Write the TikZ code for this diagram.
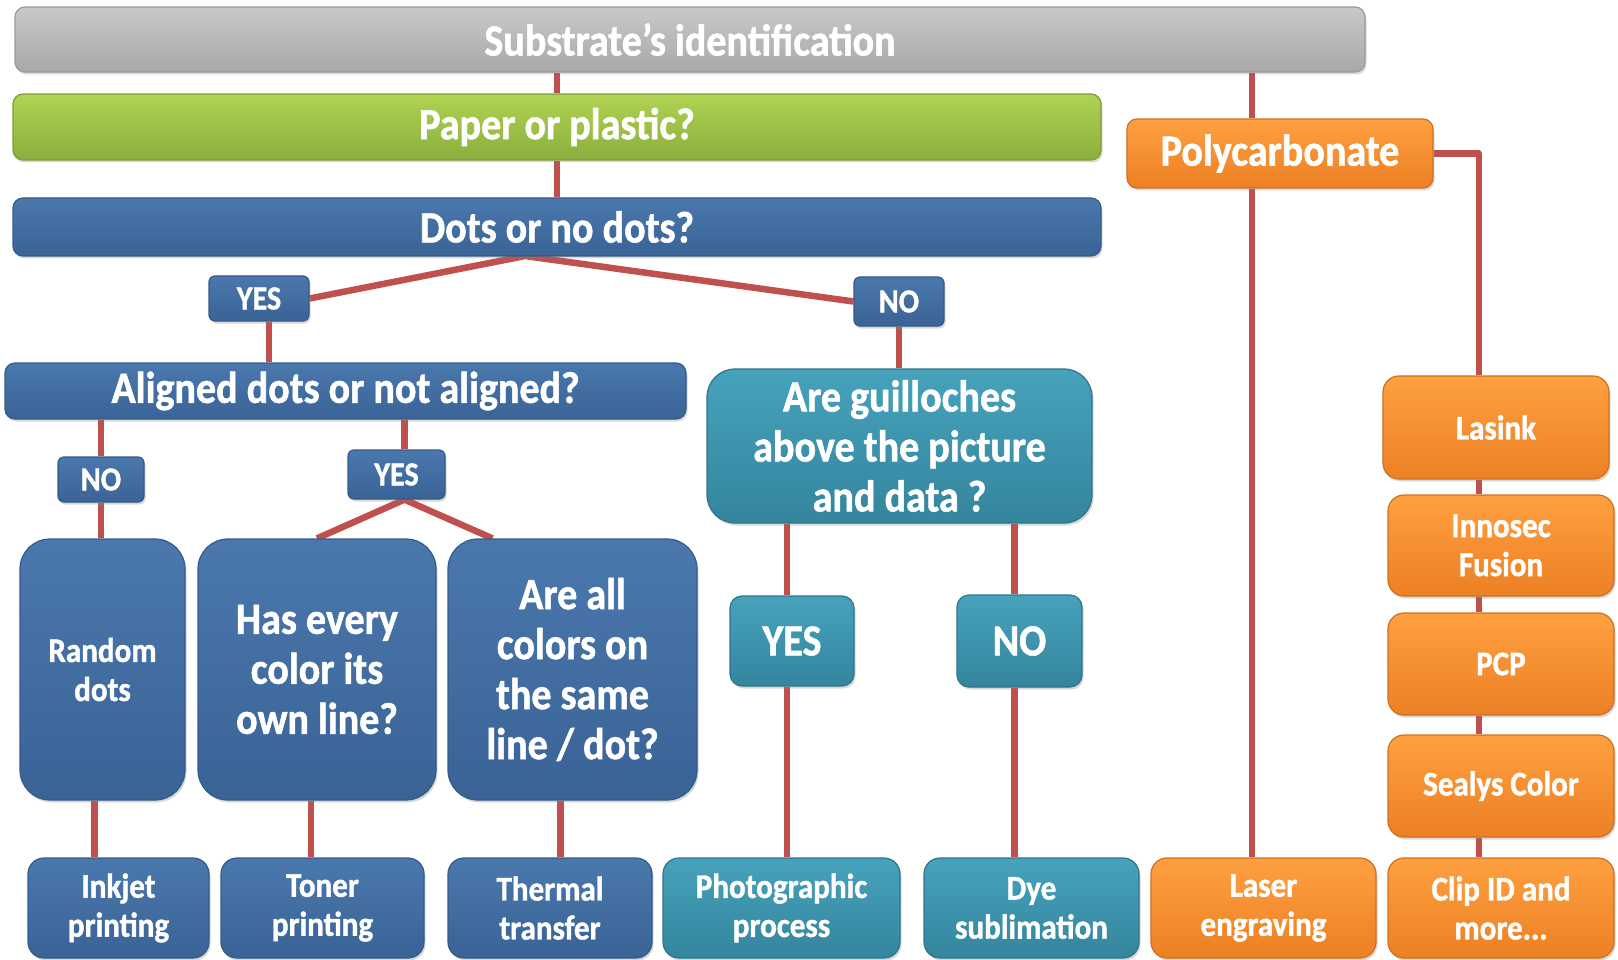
\documentclass[tikz,border=0pt]{standalone}
\usepackage{fontspec}
\setmainfont{Carlito}[FakeStretch=0.9, BoldFeatures={FakeBold=1.2}]
\usepackage{xcolor}
\usetikzlibrary{shadows, backgrounds}

\definecolor{greyTop}{HTML}{C9C9C9}
\definecolor{greyBot}{HTML}{A8A8A8}
\definecolor{greyEdge}{HTML}{9A9A9A}
\definecolor{greenTop}{HTML}{AFD352}
\definecolor{greenBot}{HTML}{8BAE3E}
\definecolor{greenEdge}{HTML}{7D9D37}
\definecolor{blueTop}{HTML}{4A78AD}
\definecolor{blueBot}{HTML}{3A6396}
\definecolor{blueEdge}{HTML}{335A88}
\definecolor{tealTop}{HTML}{47A2BC}
\definecolor{tealBot}{HTML}{34859D}
\definecolor{tealEdge}{HTML}{2E7589}
\definecolor{orangeTop}{HTML}{FFA040}
\definecolor{orangeBot}{HTML}{EC8024}
\definecolor{orangeEdge}{HTML}{D0701E}
\definecolor{linkred}{HTML}{C0504D}

\begin{document}
\begin{tikzpicture}[x=1pt, y=-1pt]
    \tikzset{
        box/.style={rectangle, draw, line width=1.2pt, inner sep=0pt, align=center, text=white,
            font=\bfseries\fontsize{44.5}{50}\selectfont,
            drop shadow={opacity=0.3, shadow xshift=1.5pt, shadow yshift=-2.5pt}},
        small/.style={font=\bfseries\fontsize{34.5}{39}\selectfont},
        label/.style={font=\bfseries\fontsize{33.5}{38}\selectfont},
        greybar/.style={box, rounded corners=10pt, draw=greyEdge, top color=greyTop, bottom color=greyBot},
        greenbar/.style={box, rounded corners=10pt, draw=greenEdge, top color=greenTop, bottom color=greenBot},
        bluebox/.style={box, draw=blueEdge, top color=blueTop, bottom color=blueBot},
        tealbox/.style={box, draw=tealEdge, top color=tealTop, bottom color=tealBot},
        orangebox/.style={box, draw=orangeEdge, top color=orangeTop, bottom color=orangeBot},
        link/.style={draw=linkred, line width=6.5pt, line join=round}
    }
    \useasboundingbox (0,0) rectangle (1618,960);

    % top bars
    \node[greybar, minimum width=1350pt, minimum height=65pt] (title) at (690,39.5) {Substrate’s identification};
    \node[greenbar, minimum width=1088pt, minimum height=66pt] (paper) at (557,127) {Paper or plastic?};
    \node[bluebox, rounded corners=10pt, minimum width=1088pt, minimum height=58pt] (dots) at (557,227) {Dots or no dots?};
    \node[orangebox, rounded corners=10pt, minimum width=306pt, minimum height=69pt] (poly) at (1280,153.5) {Polycarbonate};

    % first answers
    \node[bluebox, label, rounded corners=6pt, minimum width=100pt, minimum height=45pt] (yesA) at (259,298.5) {YES};
    \node[bluebox, label, rounded corners=6pt, minimum width=90pt, minimum height=49pt] (noA) at (899,301.5) {NO};

    \node[bluebox, rounded corners=10pt, minimum width=681pt, minimum height=56pt] (aligned) at (345.5,391) {Aligned dots or not aligned?};
    \node[tealbox, rounded corners=28pt, minimum width=385pt, minimum height=154pt] (guill) at (899.5,446) {Are guilloches\\above the picture\\and data ?};

    \node[bluebox, label, rounded corners=6pt, minimum width=86pt, minimum height=45pt] (noB) at (101,479.5) {NO};
    \node[bluebox, label, rounded corners=6pt, minimum width=97pt, minimum height=49pt] (yesB) at (396.5,474.5) {YES};

    % questions
    \node[bluebox, small, rounded corners=30pt, minimum width=165pt, minimum height=261pt] (random) at (102.5,669.5) {Random\\dots};
    \node[bluebox, rounded corners=30pt, minimum width=238pt, minimum height=261pt] (hasevery) at (317,669.5) {Has every\\color its\\own line?};
    \node[bluebox, rounded corners=30pt, minimum width=249pt, minimum height=261pt] (areall) at (572.5,669.5) {Are all\\colors on\\the same\\line / dot?};
    \node[tealbox, rounded corners=12pt, minimum width=124pt, minimum height=90pt] (yesC) at (792,641) {YES};
    \node[tealbox, rounded corners=12pt, minimum width=125pt, minimum height=92pt] (noC) at (1019.5,641) {NO};

    % orange chain
    \node[orangebox, small, rounded corners=16pt, minimum width=226pt, minimum height=103pt] (lasink) at (1496,427.5) {Lasink};
    \node[orangebox, small, rounded corners=16pt, minimum width=226pt, minimum height=101pt] (innosec) at (1501,545.5) {Innosec\\Fusion};
    \node[orangebox, small, rounded corners=16pt, minimum width=226pt, minimum height=102pt] (pcp) at (1501,664) {PCP};
    \node[orangebox, small, rounded corners=16pt, minimum width=226pt, minimum height=102pt] (sealys) at (1501,786) {Sealys Color};

    % bottom row
    \node[bluebox, small, rounded corners=16pt, minimum width=181pt, minimum height=100pt] (inkjet) at (118.5,908) {Inkjet\\printing};
    \node[bluebox, small, rounded corners=16pt, minimum width=203pt, minimum height=100pt] (toner) at (322.5,908) {Toner\\printing};
    \node[bluebox, small, rounded corners=16pt, minimum width=204pt, minimum height=100pt] (thermal) at (550,908) {Thermal\\transfer};
    \node[tealbox, small, rounded corners=16pt, minimum width=237pt, minimum height=100pt] (photo) at (781.5,908) {Photographic\\process};
    \node[tealbox, small, rounded corners=16pt, minimum width=215pt, minimum height=100pt] (dye) at (1031.5,908) {Dye\\sublimation};
    \node[orangebox, small, rounded corners=16pt, minimum width=225pt, minimum height=100pt] (laser) at (1263.5,908) {Laser\\engraving};
    \node[orangebox, small, rounded corners=16pt, minimum width=226pt, minimum height=100pt] (clip) at (1501,908) {Clip ID and\\more...};

    % connectors
    \begin{scope}[on background layer]
        \draw[link] (paper.north) -- (paper.north |- title.south);
        \draw[link] (paper) -- (dots);
        \coordinate (dsplit) at (525,256);
        \draw[link] (yesA.east) -- (dsplit) -- (noA.west);
        \draw[link] ([xshift=10pt]yesA.south) -- ([xshift=10pt]yesA.south |- aligned.north);
        \draw[link] (noB.north) -- (noB.north |- aligned.south);
        \draw[link] (noB.south) -- (noB.south |- random.north);
        \draw[link] ([xshift=8pt]yesB.north) -- ([xshift=8pt]yesB.north |- aligned.south);
        \coordinate (ysplit) at ([xshift=8pt]yesB.south);
        \draw[link] (hasevery.north) -- (ysplit) -- ([xshift=-80pt]areall.north);
        \draw[link] ([xshift=-8pt]random.south) -- ([xshift=-8pt]random.south |- inkjet.north);
        \draw[link] ([xshift=-6pt]hasevery.south) -- ([xshift=-6pt]hasevery.south |- toner.north);
        \draw[link] ([xshift=-12pt]areall.south) -- ([xshift=-12pt]areall.south |- thermal.north);
        \draw[link] (noA.south) -- (noA.south |- guill.north);
        \draw[link] ([xshift=-5pt]yesC.north) -- ([xshift=-5pt]yesC.north |- guill.south);
        \draw[link] ([xshift=-5pt]yesC.south) -- ([xshift=-5pt]yesC.south |- photo.north);
        \draw[link] ([xshift=-5pt]noC.north) -- ([xshift=-5pt]noC.north |- guill.south);
        \draw[link] ([xshift=-5pt]noC.south) -- ([xshift=-5pt]noC.south |- dye.north);
        \draw[link] ([xshift=-28pt]poly.north) -- ([xshift=-28pt]poly.north |- title.south);
        \draw[link] ([xshift=-28pt]poly.south) -- ([xshift=-28pt]poly.south |- laser.north);
        \coordinate (chain) at ([xshift=-17pt]lasink.north |- poly.east);
        \draw[link] (poly.east) -- (chain) -- (chain |- lasink.north);
        \foreach \a/\b in {lasink/innosec, innosec/pcp, pcp/sealys, sealys/clip}
            \draw[link] (chain |- \a.south) -- (chain |- \b.north);
    \end{scope}
\end{tikzpicture}
\end{document}
